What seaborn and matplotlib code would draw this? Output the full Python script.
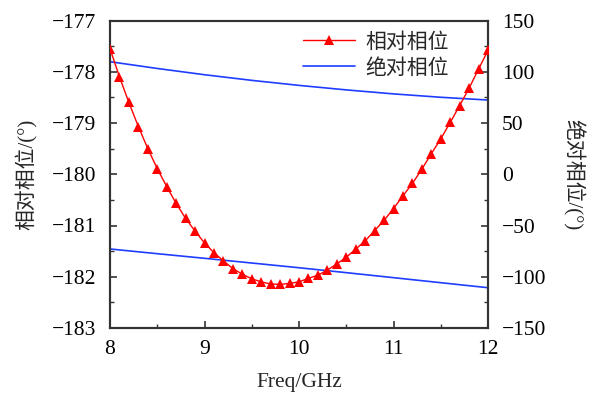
import numpy as np
import pandas as pd
import matplotlib
matplotlib.use("Agg")
import matplotlib.pyplot as plt
from matplotlib.ticker import MultipleLocator
import seaborn as sns

# Relative phase (left axis), sampled every 0.1 GHz
freq = [8.0, 8.1, 8.2, 8.3, 8.4, 8.5, 8.6, 8.7, 8.8, 8.9,
        9.0, 9.1, 9.2, 9.3, 9.4, 9.5, 9.6, 9.7, 9.8, 9.9,
        10.0, 10.1, 10.2, 10.3, 10.4, 10.5, 10.6, 10.7, 10.8, 10.9,
        11.0, 11.1, 11.2, 11.3, 11.4, 11.5, 11.6, 11.7, 11.8, 11.9, 12.0]
rel_phase = [-177.55, -178.10, -178.60, -179.07, -179.50, -179.89, -180.24, -180.57, -180.86, -181.11,
             -181.34, -181.53, -181.69, -181.84, -181.95, -182.04, -182.10, -182.14, -182.15, -182.13,
             -182.10, -182.03, -181.97, -181.87, -181.75, -181.62, -181.46, -181.30, -181.10, -180.90,
             -180.67, -180.42, -180.18, -179.90, -179.60, -179.31, -178.99, -178.66, -178.32, -177.95, -177.58]

# Absolute phase of the two channels (right axis)
abs_freq = [8.0, 8.5, 9.0, 9.5, 10.0, 10.5, 11.0, 11.5, 12.0]
abs_phase_a = [109.8, 103.2, 97.1, 91.6, 86.7, 82.3, 78.4, 75.1, 72.4]
abs_phase_b = [-72.9, -77.5, -82.0, -86.6, -91.2, -96.0, -100.9, -105.8, -110.7]

sns.set_style("ticks")
plt.rcParams["font.family"] = ["Liberation Serif", "Noto Sans CJK SC"]
plt.rcParams["font.size"] = 15
plt.rcParams["axes.unicode_minus"] = True

fig = plt.figure(figsize=(5.93, 3.94), dpi=100)
ax = fig.add_axes([110 / 593, 1 - 328 / 394, 378 / 593, 307.5 / 394])
ax2 = ax.twinx()

rel_df = pd.DataFrame({"freq": freq, "phase": rel_phase})
abs_df_a = pd.DataFrame({"freq": abs_freq, "phase": abs_phase_a})
abs_df_b = pd.DataFrame({"freq": abs_freq, "phase": abs_phase_b})

blue = "#1f3dff"
sns.lineplot(data=abs_df_a, x="freq", y="phase", ax=ax2, color=blue, lw=1.2)
sns.lineplot(data=abs_df_b, x="freq", y="phase", ax=ax2, color=blue, lw=1.2)
sns.lineplot(data=rel_df, x="freq", y="phase", ax=ax, color="#ff0000", lw=1.0,
             marker="^", markersize=7.5, markeredgewidth=0, zorder=5)
ax.set_zorder(ax2.get_zorder() + 1)
ax.patch.set_visible(False)

ax.set_xlim(8, 12)
ax.set_ylim(-183, -177)
ax2.set_ylim(-150, 150)
ax.xaxis.set_major_locator(MultipleLocator(1))
ax.xaxis.set_minor_locator(MultipleLocator(0.5))
ax.yaxis.set_major_locator(MultipleLocator(1))
ax.yaxis.set_minor_locator(MultipleLocator(0.5))
ax2.yaxis.set_major_locator(MultipleLocator(50))
ax2.yaxis.set_minor_locator(MultipleLocator(25))

spine_c = "#333333"
for a in (ax, ax2):
    for s in a.spines.values():
        s.set_visible(True)
        s.set_color(spine_c)
        s.set_linewidth(1.5)
    a.tick_params(which="major", direction="in", length=5, width=1.2, color=spine_c,
                  labelsize=15.5, labelcolor="black", pad=10)
    a.tick_params(which="minor", direction="in", length=3, width=1.0, color=spine_c)
ax.tick_params(axis="x", which="major", pad=9)
ax.tick_params(which="both", top=False, right=False)
ax2.tick_params(which="both", left=False, top=False)

ax.set_xlabel("Freq/GHz", fontsize=15.5, labelpad=10)
ax.set_ylabel("相对相位/(°)", fontsize=15, labelpad=10)
ax2.set_ylabel("绝对相位/(°)", fontsize=15, rotation=270, labelpad=27)

handles = [ax.get_lines()[0], ax2.get_lines()[0]]
ax.legend(handles, ["相对相位", "绝对相位"], loc="upper right", bbox_to_anchor=(0.93, 1.0),
          frameon=False, fontsize=15, handlelength=2.5, handletextpad=0.5,
          labelspacing=0.3, borderaxespad=0.2)

fig.savefig("out.png", dpi=100)
